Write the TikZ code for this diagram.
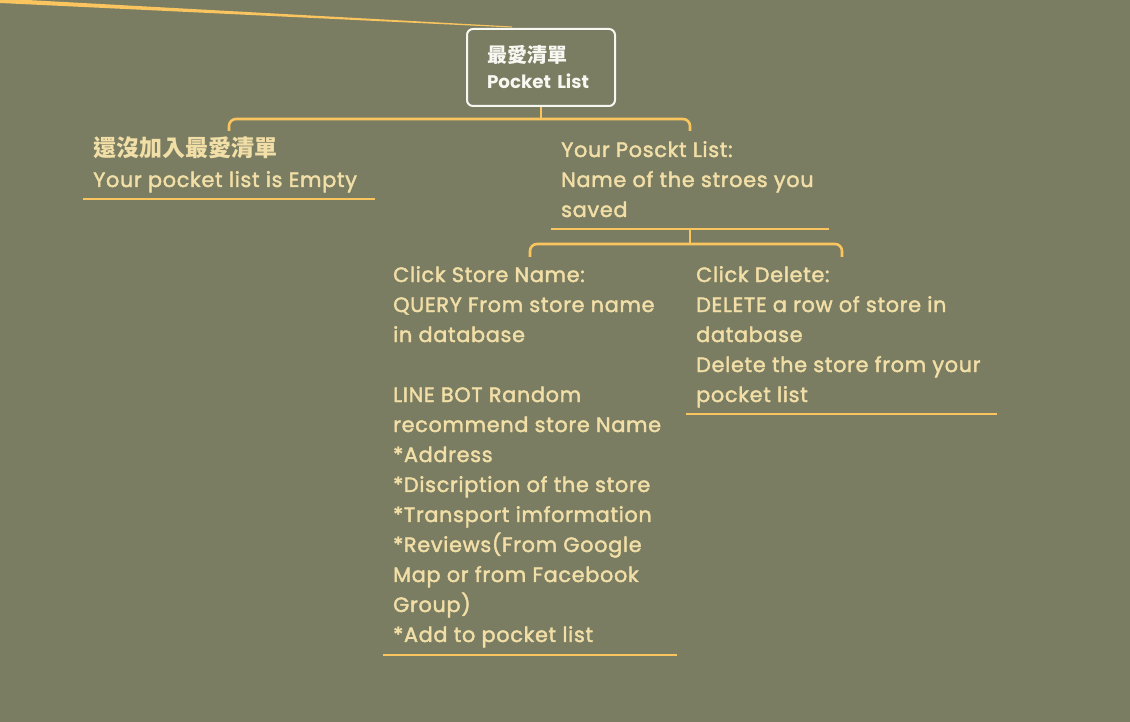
\documentclass[tikz,border=0pt]{standalone}
\usepackage{fontspec}
\setmainfont{Poppins}
\newfontfamily\bodyf{Poppins}[LetterSpace=3.3, FakeBold=2]
\newfontfamily\cjk{Noto Sans CJK TC}
\definecolor{bgc}{HTML}{7A7D62}
\definecolor{txc}{HTML}{F2DFA7}
\definecolor{lnc}{HTML}{FAC55F}
\definecolor{wtc}{HTML}{F8F8F2}
\newcommand\mlines[1]{\vtop{\baselineskip=30pt\lineskiplimit=-100pt\lineskip=0pt #1}}
\newcommand\ml[1]{\hbox{#1}}
\tikzset{
  conn/.style={draw=lnc, line width=2.6pt, rounded corners=7pt},
  uline/.style={draw=lnc, line width=2.6pt},
  leaf/.style={anchor=base west, inner sep=0pt, text=txc, font=\bodyf\fontsize{20.8}{30}\selectfont},
  rootbox/.style={draw=wtc, line width=2pt, rounded corners=6pt, text=wtc,
    minimum width=148pt, minimum height=77pt, inner xsep=20pt, text width=108pt,
    align=left, font=\fontsize{18.3}{26}\selectfont\bfseries}
}
\begin{document}
\begin{tikzpicture}[x=1pt,y=-1pt]
\fill[bgc] (0,0) rectangle (1130,722);
\useasboundingbox (0,0) rectangle (1130,722);
% tapered line at top-left
\fill[lnc] (0,-1.5) -- (0,3) -- (512,27.5) -- (512,26.5) -- cycle;
% root
\node[rootbox] (root) at (541,67.5) {{\cjk\bfseries\fontsize{20}{26}\selectfont 最愛清單}\\Pocket List};
% level 1
\node[leaf] (empty) at (93,157) {\mlines{\ml{\cjk\bfseries\fontsize{23}{30}\selectfont 還沒加入最愛清單}\ml{Your pocket list is Empty}}};
\node[leaf] (list) at (561,157) {\mlines{\ml{Your Posckt List:}\ml{Name of the stroes you}\ml{saved}}};
% level 2
\node[leaf] (query) at (393,282) {\mlines{\ml{Click Store Name:}\ml{QUERY From store name}\ml{in database}\ml{}\ml{LINE BOT Random}\ml{recommend store Name}\ml{*Address}\ml{*Discription of the store}\ml{*Transport imformation}\ml{*Reviews(From Google}\ml{Map or from Facebook}\ml{Group)}\ml{*Add to pocket list}}};
\node[leaf] (del) at (696,282) {\mlines{\ml{Click Delete:}\ml{DELETE a row of store in}\ml{database}\ml{Delete the store from your}\ml{pocket list}}};
% underlines
\coordinate (u1a) at (83,199);  \coordinate (u1b) at (375,199);
\coordinate (u2a) at (551,229); \coordinate (u2b) at (829,229);
\coordinate (u3a) at (383,655); \coordinate (u3b) at (677,655);
\coordinate (u4a) at (686,414); \coordinate (u4b) at (997,414);
\draw[uline] (u1a) -- (u1b);
\draw[uline] (u2a) -- (u2b);
\draw[uline] (u3a) -- (u3b);
\draw[uline] (u4a) -- (u4b);
% brackets
\coordinate (b1) at (541,119);
\coordinate (b1l) at (229,131);
\coordinate (b1r) at (690,131);
\draw[uline] (root.south) -- (b1);
\draw[conn] (b1l) |- (b1r |- b1) -- (b1r);
\coordinate (s2) at (690,229);
\coordinate (b2) at (690,244);
\coordinate (b2l) at (530,257);
\coordinate (b2r) at (842,257);
\draw[uline] (s2) -- (b2);
\draw[conn] (b2l) |- (b2r |- b2) -- (b2r);
\end{tikzpicture}
\end{document}
